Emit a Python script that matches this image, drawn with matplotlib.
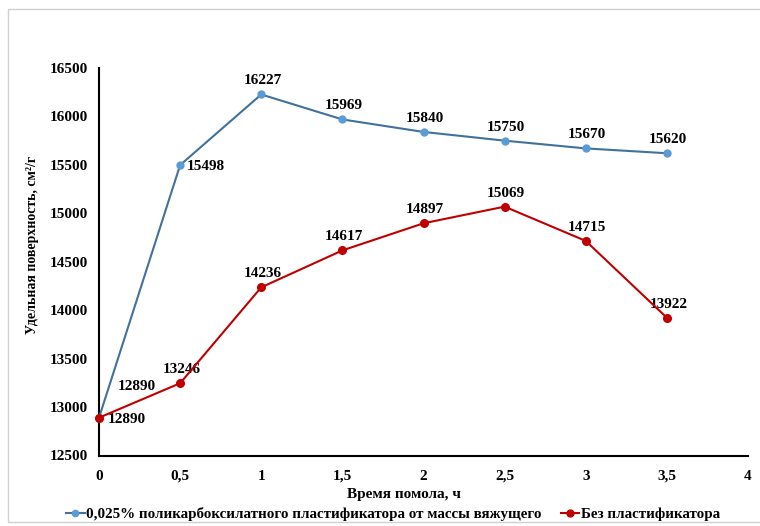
import matplotlib
matplotlib.use("Agg")
import matplotlib.pyplot as plt
from matplotlib.patches import Rectangle

x = [0, 0.5, 1, 1.5, 2, 2.5, 3, 3.5]
blue = [12890, 15498, 16227, 15969, 15840, 15750, 15670, 15620]
red = [12890, 13246, 14236, 14617, 14897, 15069, 14715, 13922]
xticks = [0, 0.5, 1, 1.5, 2, 2.5, 3, 3.5, 4]
xtick_labels = ["0", "0,5", "1", "1,5", "2", "2,5", "3", "3,5", "4"]
yticks = [12500, 13000, 13500, 14000, 14500, 15000, 15500, 16000, 16500]
blue_name = "0,025% поликарбоксилатного пластификатора от массы вяжущего"
red_name = "Без пластификатора"

plt.rcParams['font.family'] = ['Liberation Serif', 'DejaVu Serif']
plt.rcParams['font.weight'] = 'bold'

W, H = 760, 526
fig = plt.figure(figsize=(7.6, 5.26), dpi=100)
fig.patches.append(Rectangle((8/W, 1 - 522/H), 1.0, (522-9)/H,
                             transform=fig.transFigure, fill=False,
                             edgecolor='#d0d0d0', linewidth=1.0))
ax_l, ax_r, ax_t, ax_b = 99, 748, 68, 455.5
ax = fig.add_axes([ax_l/W, 1 - ax_b/H, (ax_r-ax_l)/W, (ax_b-ax_t)/H])

ax.plot(x, blue, color='#41719C', linewidth=1.5, marker='o', markersize=5,
        markerfacecolor='#5B9BD5', markeredgecolor='#5B9BD5', label=blue_name, clip_on=False, zorder=3)
ax.plot(x, red, color='#C00000', linewidth=1.5, marker='o', markersize=5.5,
        markerfacecolor='#C00000', markeredgecolor='#C00000', label=red_name, clip_on=False, zorder=4)

ax.set_xlim(0, 4)
ax.set_ylim(12500, 16500)
ax.set_xticks(xticks)
ax.set_xticklabels(xtick_labels)
ax.set_yticks(yticks)
ax.tick_params(axis='y', length=0, labelsize=11, pad=8)
ax.tick_params(axis='x', length=0, labelsize=11, pad=17.3)
for lab in ax.get_xticklabels():
    lab.set_fontweight('bold')
    lab.set_va('baseline')
for lab in ax.get_yticklabels():
    lab.set_fontweight('bold')
for s in ['top', 'right']:
    ax.spines[s].set_visible(False)
for s in ['left', 'bottom']:
    ax.spines[s].set_linewidth(1.5)
    ax.spines[s].set_color('black')

ax.set_xlabel("Время помола, ч", fontsize=11, fontweight='bold', va='baseline')
ax.xaxis.set_label_coords((404-ax_l)/(ax_r-ax_l), (ax_b-498)/(ax_b-ax_t))
ax.set_ylabel("Удельная поверхность, см²/г", fontsize=10, fontweight='bold')
ax.yaxis.set_label_coords((39-ax_l)/(ax_r-ax_l), (ax_b-245)/(ax_b-ax_t))

lab_kw = dict(textcoords='offset points', fontsize=11, fontweight='bold', color='black', va='baseline')
# blue labels
for i, (xi, yi) in enumerate(zip(x, blue)):
    if i == 0:
        ax.annotate(f"{yi}", (xi, yi), xytext=(27, 20), ha='center', **lab_kw)
    elif i == 1:
        ax.annotate(f"{yi}", (xi, yi), xytext=(5, -3.6), ha='left', **lab_kw)
    else:
        ax.annotate(f"{yi}", (xi, yi), xytext=(1, 7.2), ha='center', **lab_kw)
# red labels
for i, (xi, yi) in enumerate(zip(x, red)):
    if i == 0:
        ax.annotate(f"{yi}", (xi, yi), xytext=(6.5, -3.6), ha='left', **lab_kw)
    else:
        ax.annotate(f"{yi}", (xi, yi), xytext=(1, 7.2), ha='center', **lab_kw)

fig.legend(loc='center', bbox_to_anchor=(393/W, 1 - 514/H), ncol=2, frameon=False,
           prop={'size': 10.8, 'weight': 'bold'}, handlelength=1.25, handletextpad=0.1,
           columnspacing=1.25, borderaxespad=0, markerscale=0.9)

fig.savefig("out.png", dpi=100)
